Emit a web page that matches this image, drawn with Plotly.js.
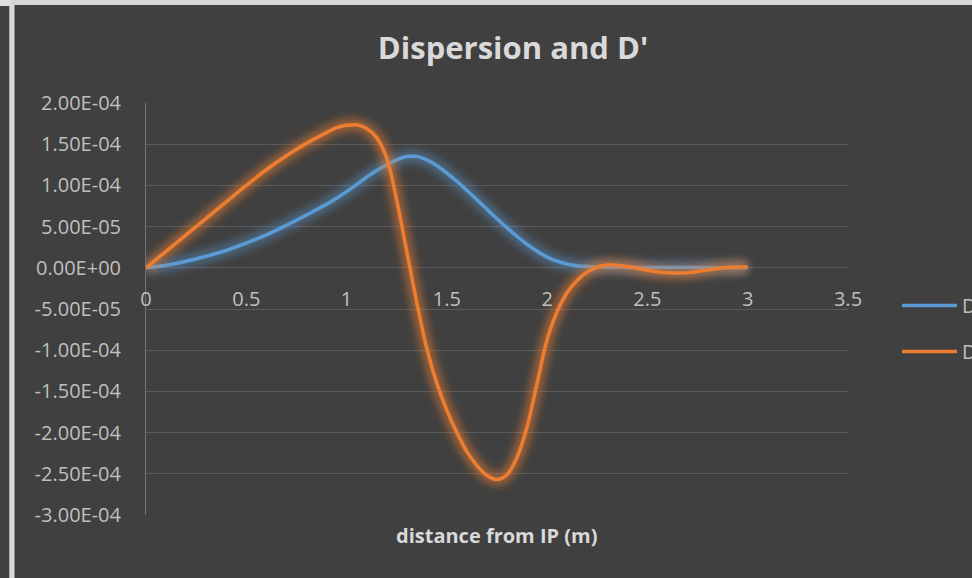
<!DOCTYPE html>
<html>
<head>
<meta charset="utf-8">
<script src="https://cdn.plot.ly/plotly-3.0.1.min.js"></script>
<style>
  html, body { margin: 0; padding: 0; background: #404040; }
  #chart { width: 972px; height: 578px; }
</style>
</head>
<body>
<div id="chart"></div>
<script>
// Distance from the interaction point (m)
const distance = [0, 0.1, 0.2, 0.3, 0.4, 0.5, 0.6, 0.7, 0.8, 0.9, 0.95, 1.0, 1.05, 1.1, 1.15,
  1.2, 1.25, 1.3, 1.35, 1.4, 1.45, 1.5, 1.55, 1.6, 1.65, 1.7, 1.75, 1.8, 1.85, 1.9, 1.95,
  2.0, 2.05, 2.1, 2.15, 2.2, 2.25, 2.3, 2.4, 2.5, 2.6, 2.7, 2.8, 2.9, 3.0];

// Dispersion D
const dispersion = [0, 0.3e-5, 0.8e-5, 1.4e-5, 2.1e-5, 3.0e-5, 4.0e-5, 5.15e-5, 6.4e-5, 7.7e-5, 8.45e-5,
  9.25e-5, 10.1e-5, 11.0e-5, 11.8e-5, 12.5e-5, 13.1e-5, 13.5e-5, 13.5e-5, 13.1e-5, 12.4e-5,
  11.5e-5, 10.5e-5, 9.4e-5, 8.25e-5, 7.1e-5, 5.95e-5, 4.85e-5, 3.8e-5, 2.85e-5, 2.0e-5,
  1.3e-5, 0.8e-5, 0.45e-5, 0.25e-5, 0.15e-5, 0.1e-5, 0.07e-5, 0.05e-5, 0.04e-5, 0.03e-5,
  0.03e-5, 0.02e-5, 0.01e-5, 0];

// Derivative D'
const dispersionPrime = [0, 2.0e-5, 4.0e-5, 6.0e-5, 8.0e-5, 10.0e-5, 11.9e-5, 13.6e-5, 15.1e-5, 16.4e-5, 17.0e-5,
  17.3e-5, 17.35e-5, 16.9e-5, 15.8e-5, 13.3e-5, 8.2e-5, 2.0e-5, -4.2e-5, -9.8e-5, -14.0e-5,
  -17.3e-5, -20.0e-5, -22.3e-5, -24.0e-5, -25.2e-5, -25.7e-5, -25.1e-5, -23.0e-5, -19.3e-5, -14.0e-5,
  -8.7e-5, -5.3e-5, -3.0e-5, -1.5e-5, -0.5e-5, 0.1e-5, 0.35e-5, 0.15e-5, -0.3e-5, -0.6e-5,
  -0.6e-5, -0.25e-5, 0.05e-5, 0.1e-5];

const seriesNames = ["D", "D'"];

const xTickVals = [0, 0.5, 1, 1.5, 2, 2.5, 3, 3.5];
const xTickText = ["0", "0.5", "1", "1.5", "2", "2.5", "3", "3.5"];
const yTickVals = [2e-4, 1.5e-4, 1e-4, 5e-5, 0, -5e-5, -1e-4, -1.5e-4, -2e-4, -2.5e-4, -3e-4];
const yTickText = ["2.00E-04", "1.50E-04", "1.00E-04", "5.00E-05", "0.00E+00", "-5.00E-05",
  "-1.00E-04", "-1.50E-04", "-2.00E-04", "-2.50E-04", "-3.00E-04"];

const BLUE = '#5B9BD5';
const ORANGE = '#ED7D31';
const FONT = 'Open Sans, Noto Sans, sans-serif';

function glowTrace(y, color) {
  return {
    x: distance, y: y, type: 'scatter', mode: 'lines',
    line: { color: color, width: 12, shape: 'spline', smoothing: 1 },
    showlegend: false, hoverinfo: 'skip'
  };
}
function lineTrace(y, color, name) {
  return {
    x: distance, y: y, type: 'scatter', mode: 'lines', name: name,
    legendgroup: name,
    line: { color: color, width: 3.5, shape: 'spline', smoothing: 1 }
  };
}

const traces = [
  glowTrace(dispersion, 'rgba(91,155,213,0.45)'),
  lineTrace(dispersion, BLUE, seriesNames[0]),
  glowTrace(dispersionPrime, 'rgba(237,125,49,0.55)'),
  lineTrace(dispersionPrime, ORANGE, seriesNames[1])
];

// paper coordinates of the frame edges
const L = 146, R = 848, T = 103, B = 515;
const px = v => (v - L) / (R - L);
const py = v => (B - v) / (B - T);

const layout = {
  width: 972, height: 578,
  margin: { l: L, r: 972 - R, t: T, b: 578 - B, pad: 0, autoexpand: false },
  paper_bgcolor: '#404040',
  plot_bgcolor: '#404040',
  font: { family: FONT, color: '#bfbfbf' },
  title: {
    text: "Dispersion and D'",
    font: { family: FONT, size: 31, color: '#d9d9d9', weight: 'bold' },
    xref: 'container', yref: 'container',
    x: 513 / 972, xanchor: 'center',
    y: 1 - 48 / 578, yanchor: 'middle'
  },
  xaxis: {
    range: [0, 3.5],
    tickvals: xTickVals, ticktext: xTickText,
    tickfont: { family: FONT, size: 20, color: '#bfbfbf' },
    showgrid: false, zeroline: false, showline: false, ticks: '',
    anchor: 'free', position: py(268),
    ticklabelstandoff: 17,
    fixedrange: true
  },
  yaxis: {
    range: [-3e-4, 2e-4],
    tickvals: yTickVals, ticktext: yTickText,
    tickfont: { family: FONT, size: 20, color: '#bfbfbf' },
    showgrid: true, gridcolor: '#5a5a5a', gridwidth: 1,
    zeroline: false, showline: true, linecolor: '#727272', linewidth: 1,
    ticks: '', ticklabelstandoff: 20,
    fixedrange: true
  },
  showlegend: true,
  legend: {
    x: px(897), xanchor: 'left',
    y: py(286), yanchor: 'top',
    bgcolor: 'rgba(0,0,0,0)',
    font: { family: FONT, size: 20, color: '#bfbfbf' },
    itemwidth: 55,
    tracegroupgap: 17,
    traceorder: 'grouped'
  },
  annotations: [{
    text: 'distance from IP (m)',
    xref: 'paper', yref: 'paper',
    x: px(497), y: py(535), xanchor: 'center', yanchor: 'middle',
    showarrow: false,
    font: { family: FONT, size: 20, color: '#d9d9d9', weight: 'bold' }
  }],
  shapes: [
    // light frame edges on the left and top
    { type: 'rect', xref: 'paper', yref: 'paper', layer: 'above',
      x0: px(9.3), x1: px(14.5), y0: py(590), y1: py(-5),
      fillcolor: '#d9d9d9', line: { width: 0 } },
    { type: 'rect', xref: 'paper', yref: 'paper', layer: 'above',
      x0: px(12), x1: px(990), y0: py(5), y1: py(-5),
      fillcolor: '#d6d6d6', line: { width: 0 } },
    { type: 'rect', xref: 'paper', yref: 'paper', layer: 'above',
      x0: px(-10), x1: px(10), y0: py(6), y1: py(-5),
      fillcolor: '#dedede', line: { width: 0 } }
  ]
};

const gd = document.getElementById('chart');
Plotly.newPlot(gd, traces, layout, { staticPlot: true, displayModeBar: false }).then(() => {
  // soft halo around each curve
  const ns = 'http://www.w3.org/2000/svg';
  const svg = gd.querySelector('svg.main-svg');
  let defs = svg.querySelector('defs');
  if (!defs) { defs = document.createElementNS(ns, 'defs'); svg.insertBefore(defs, svg.firstChild); }
  const filter = document.createElementNS(ns, 'filter');
  filter.setAttribute('id', 'line-halo');
  filter.setAttribute('x', '-20%'); filter.setAttribute('y', '-20%');
  filter.setAttribute('width', '140%'); filter.setAttribute('height', '140%');
  const blur = document.createElementNS(ns, 'feGaussianBlur');
  blur.setAttribute('stdDeviation', '4.5');
  filter.appendChild(blur);
  defs.appendChild(filter);
  const groups = gd.querySelectorAll('.scatterlayer .trace');
  [0, 2].forEach(i => {
    if (groups[i]) groups[i].querySelectorAll('path.js-line').forEach(p => p.setAttribute('filter', 'url(#line-halo)'));
  });
});
</script>
</body>
</html>
